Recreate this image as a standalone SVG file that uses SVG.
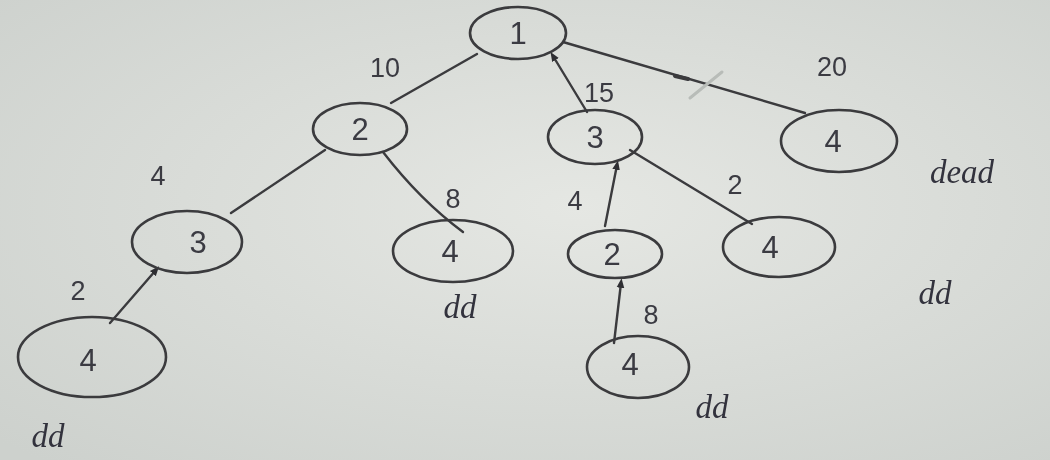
<svg xmlns="http://www.w3.org/2000/svg" width="1050" height="460" viewBox="0 0 1050 460">
  <defs>
    <radialGradient id="paper" cx="55%" cy="45%" r="75%">
      <stop offset="0" stop-color="#e5e7e3"/>
      <stop offset="1" stop-color="#cdd1cd"/>
    </radialGradient>
    <marker id="tip" viewBox="0 0 10 10" refX="5" refY="5" markerWidth="4" markerHeight="4" orient="auto-start-reverse">
      <path d="M0,1 L10,5 L0,9 z" fill="#2e2e33"/>
    </marker>
    <filter id="soft"><feGaussianBlur stdDeviation="0.7"/></filter>
  </defs>
  <style>
    .node ellipse { fill: none; stroke: #3a3a3e; stroke-width: 2.6; }
    .node text { font-family: "Liberation Sans", "DejaVu Sans", sans-serif; font-size: 31px; fill: #3a3a42; text-anchor: middle; dominant-baseline: central; }
    .edge { fill: none; stroke: #3a3a3e; stroke-width: 2.4; stroke-linecap: round; }
    .faint { fill: none; stroke: #b8bcb8; stroke-width: 3; stroke-linecap: round; }
    .w { font-family: "Liberation Sans", "DejaVu Sans", sans-serif; font-size: 27px; fill: #3a3a42; text-anchor: middle; }
    .note { font-family: "Liberation Serif", "DejaVu Serif", serif; font-style: italic; font-size: 33px; fill: #33333d; text-anchor: middle; }
  </style>

  <rect width="1050" height="460" fill="url(#paper)"/>

  <g filter="url(#soft)">
    <!-- connectors -->
    <g id="connectors">
      <path class="edge" d="M477,54 L391,103"/>
      <path class="edge" d="M553,56 L587,112" marker-start="url(#tip)"/>
      <path class="edge" d="M563,42 L805,113"/>
      <path class="edge" d="M675,76 L688,79" style="stroke-width:4"/>
      <path class="faint" d="M690,98 L722,72"/>
      <path class="edge" d="M325,150 L231,213"/>
      <path class="edge" d="M383,152 Q420,200 463,232"/>
      <path class="edge" d="M617,165 L605,226" marker-start="url(#tip)"/>
      <path class="edge" d="M630,150 L752,224"/>
      <path class="edge" d="M156,270 L110,323" marker-start="url(#tip)"/>
      <path class="edge" d="M621,283 L614,343" marker-start="url(#tip)"/>
    </g>

    <!-- nodes -->
    <g id="n1" class="node"><ellipse cx="518" cy="33" rx="48" ry="26"/><text x="518" y="33">1</text></g>
    <g id="n2" class="node"><ellipse cx="360" cy="129" rx="47" ry="26"/><text x="360" y="129">2</text></g>
    <g id="n3r" class="node"><ellipse cx="595" cy="137" rx="47" ry="27"/><text x="595" y="137">3</text></g>
    <g id="n4a" class="node"><ellipse cx="839" cy="141" rx="58" ry="31"/><text x="833" y="141">4</text></g>
    <g id="n3l" class="node"><ellipse cx="187" cy="242" rx="55" ry="31"/><text x="198" y="242">3</text></g>
    <g id="n4b" class="node"><ellipse cx="453" cy="251" rx="60" ry="31"/><text x="450" y="251">4</text></g>
    <g id="n2r" class="node"><ellipse cx="615" cy="254" rx="47" ry="24"/><text x="612" y="254">2</text></g>
    <g id="n4c" class="node"><ellipse cx="779" cy="247" rx="56" ry="30"/><text x="770" y="247">4</text></g>
    <g id="n4d" class="node"><ellipse cx="92" cy="357" rx="74" ry="40"/><text x="88" y="360">4</text></g>
    <g id="n4e" class="node"><ellipse cx="638" cy="367" rx="51" ry="31"/><text x="630" y="364">4</text></g>

    <!-- edge weights -->
    <g id="weights">
      <text class="w" x="385" y="77">10</text>
      <text class="w" x="599" y="102">15</text>
      <text class="w" x="832" y="76">20</text>
      <text class="w" x="158" y="185">4</text>
      <text class="w" x="453" y="208">8</text>
      <text class="w" x="575" y="210">4</text>
      <text class="w" x="735" y="194">2</text>
      <text class="w" x="78" y="300">2</text>
      <text class="w" x="651" y="324">8</text>
    </g>

    <!-- annotations -->
    <g id="notes">
      <text class="note" x="962" y="183">dead</text>
      <text class="note" x="935" y="304">dd</text>
      <text class="note" x="460" y="318">dd</text>
      <text class="note" x="48" y="447">dd</text>
      <text class="note" x="712" y="418">dd</text>
    </g>
  </g>
</svg>
